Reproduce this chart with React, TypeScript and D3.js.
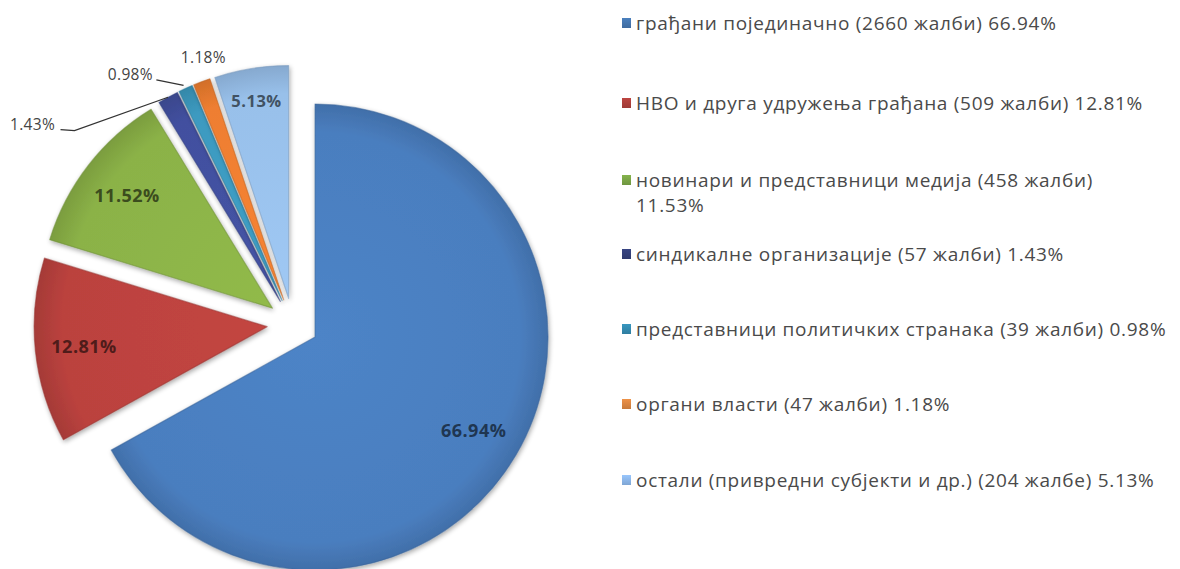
import React from "react";
import * as d3 from "d3";

const categories = [
  "грађани појединачно",
  "НВО и друга удружења грађана",
  "новинари и представници медија",
  "синдикалне организације",
  "представници политичких странака",
  "органи власти",
  "остали (привредни субјекти и др.)",
];
const complaints = [2660, 509, 458, 57, 39, 47, 204];
const complaintWord = ["жалби", "жалби", "жалби", "жалби", "жалби", "жалби", "жалбе"];
const shares = [66.94, 12.81, 11.53, 1.43, 0.98, 1.18, 5.13];
const pieLabels = ["66.94%", "12.81%", "11.52%", "1.43%", "0.98%", "1.18%", "5.13%"];
const legendShares = ["66.94%", "12.81%", "11.53%", "1.43%", "0.98%", "1.18%", "5.13%"];

const colors = ["#4a7ebf", "#bb423e", "#8bb247", "#42509f", "#3c9ac0", "#ee7e30", "#98c0ea"];
const legendColors = ["#3f6b9f", "#9e3a36", "#6f9640", "#2f3a6e", "#2f7ea0", "#c77a3c", "#7fa6d4"];

// layout (not data)
const W = 1180;
const H = 569;
const cx = 292.8;
const cy = 324;
const R = 233;
const explode = 25.8;
// outside label placement for small slices: [angleDeg, radiusFactor]
const outsideLabel: Record<number, [number, number]> = {
  3: [307.6, 1.41],
  4: [327.0, 1.28],
  5: [341.5, 1.21],
};
const insideFactor = [0.79, 0.79, 0.79, 0, 0, 0, 0.86];
const legendRows = [23, 103, 180, 254, 329, 404, 480];
const wrapGap = 25;

export default function App() {
  const pie = d3
    .pie<number>()
    .sort(null)
    .value((d) => d)
    .startAngle(0)
    .endAngle(2 * Math.PI);
  const arcs = pie(shares);
  const arc = d3.arc<d3.PieArcDatum<number>>().innerRadius(0).outerRadius(R);

  const dir = (a: number) => [Math.sin(a), -Math.cos(a)];

  const legendX = 622;
  const wrapIndex = 2;
  const legendFont = {
    fontFamily: "'Open Sans', sans-serif",
    fontSize: 19,
    letterSpacing: 0.7,
    fill: "#4a4a4a",
  };

  return (
    <svg width={W} height={H} style={{ display: "block", position: "absolute", left: 0, top: 0, background: "#fff" }}>
      <defs>
        <filter id="shadow" x="-20%" y="-20%" width="140%" height="140%">
          <feGaussianBlur in="SourceAlpha" stdDeviation="2.5" />
          <feOffset dx="1" dy="2" result="ob" />
          <feComponentTransfer>
            <feFuncA type="linear" slope="0.35" />
          </feComponentTransfer>
          <feMerge>
            <feMergeNode />
            <feMergeNode in="SourceGraphic" />
          </feMerge>
        </filter>
        {colors.map((c, i) => (
          <radialGradient key={i} id={`g${i}`} cx="0" cy="0" r={R} gradientUnits="userSpaceOnUse">
            <stop offset="0%" stopColor={d3.color(c)!.brighter(0.12).formatHex()} />
            <stop offset="88%" stopColor={c} />
            <stop offset="100%" stopColor={d3.color(c)!.darker(0.35).formatHex()} />
          </radialGradient>
        ))}
        {legendColors.map((c, i) => (
          <linearGradient key={i} id={`lg${i}`} x1="0" y1="0" x2="0" y2="1">
            <stop offset="0%" stopColor={d3.color(c)!.brighter(0.5).formatHex()} />
            <stop offset="100%" stopColor={c} />
          </linearGradient>
        ))}
      </defs>

      <g>
        {arcs.map((a, i) => {
          const mid = (a.startAngle + a.endAngle) / 2;
          const [dx, dy] = dir(mid);
          const ox = cx + explode * dx;
          const oy = cy + explode * dy;
          return (
            <g key={i} transform={`translate(${ox},${oy})`} filter="url(#shadow)">
              <path
                d={arc(a) || ""}
                fill={`url(#g${i})`}
                stroke={d3.color(colors[i])!.darker(0.6).formatHex()}
                strokeOpacity={0.55}
                strokeWidth={1.2}
                strokeLinejoin="round"
              />
            </g>
          );
        })}
      </g>

      {/* inside labels */}
      {arcs.map((a, i) => {
        if (!insideFactor[i]) return null;
        const mid = (a.startAngle + a.endAngle) / 2;
        const [dx, dy] = dir(mid);
        const ox = cx + explode * dx;
        const oy = cy + explode * dy;
        const r = R * insideFactor[i];
        return (
          <text
            key={i}
            x={ox + r * dx}
            y={oy + r * dy}
            textAnchor="middle"
            dominantBaseline="central"
            fontFamily="'Open Sans', sans-serif"
            fontSize={i === 6 ? 16.5 : 18}
            fontWeight={700}
            letterSpacing={0.5}
            fill={d3.color(colors[i])!.darker(2.4).formatHex()}
          >
            {pieLabels[i]}
          </text>
        );
      })}

      {/* outside labels with leader lines */}
      {arcs.map((a, i) => {
        const ol = outsideLabel[i];
        if (!ol) return null;
        const mid = (a.startAngle + a.endAngle) / 2;
        const [dx, dy] = dir(mid);
        const ox = cx + explode * dx;
        const oy = cy + explode * dy;
        const px = ox + R * dx;
        const py = oy + R * dy;
        const la = (ol[0] * Math.PI) / 180;
        const lx = cx + R * ol[1] * Math.sin(la);
        const ly = cy - R * ol[1] * Math.cos(la);
        const halfW = 23;
        const ex = lx + halfW + 3;
        const pts: [number, number][] =
          i === 3
            ? [
                [ex + 2, ly + 6],
                [ex + 16, ly + 7],
                [px, py],
              ]
            : i === 4
            ? [
                [ex, ly + 6],
                [px - 2, py - 3],
              ]
            : [];
        return (
          <g key={i}>
            {pts.length > 0 && (
              <path d={d3.line()(pts) || ""} fill="none" stroke="#333" strokeWidth={1.3} />
            )}
            <text
              x={lx}
              y={ly}
              textAnchor="middle"
              dominantBaseline="central"
              fontFamily="'Open Sans', sans-serif"
              fontSize={15.5}
              letterSpacing={0.3}
              fill="#444"
            >
              {pieLabels[i]}
            </text>
          </g>
        );
      })}

      {/* legend */}
      {categories.map((c, i) => {
        const y = legendRows[i];
        const full = `${c} (${complaints[i]} ${complaintWord[i]})`;
        const wrap = i === wrapIndex;
        return (
          <g key={i}>
            <rect x={legendX} y={y - 5} width={9} height={10} fill={`url(#lg${i})`} />
            <text x={legendX + 14} y={y} dominantBaseline="central" {...legendFont}>
              {wrap ? full : `${full} ${legendShares[i]}`}
            </text>
            {wrap && (
              <text x={legendX + 14} y={y + wrapGap} dominantBaseline="central" {...legendFont}>
                {legendShares[i]}
              </text>
            )}
          </g>
        );
      })}
    </svg>
  );
}
